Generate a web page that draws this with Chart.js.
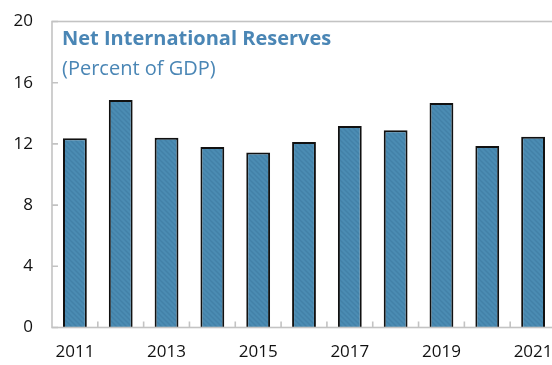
<!DOCTYPE html>
<html>
<head>
<meta charset="utf-8">
<script src="https://cdn.jsdelivr.net/npm/chart.js@4"></script>
<style>
  html, body { margin: 0; padding: 0; background: #fff; overflow: hidden; }
  #wrap { position: relative; width: 552px; height: 365px; overflow: hidden; }
  #reserves-chart { position: absolute; left: 0; top: 0; }
</style>
</head>
<body>
<div id="wrap"><canvas id="reserves-chart" width="560" height="365"></canvas></div>
<script>
// Net international reserves, percent of GDP
const years = ['2011', '2012', '2013', '2014', '2015', '2016', '2017', '2018', '2019', '2020', '2021'];
const reserves = [12.37, 14.87, 12.4, 11.8, 11.43, 12.12, 13.17, 12.9, 14.67, 11.86, 12.47];
const yTicks = [0, 4, 8, 12, 16, 20];

const axisGrey = '#c3c3c3';
const titleBlue = '#4a86b5';

// hatched fill for the bars
function makeHatch() {
  const s = 5;
  const c = document.createElement('canvas');
  c.width = s;
  c.height = s;
  const g = c.getContext('2d');
  g.fillStyle = '#4b8cb3';
  g.fillRect(0, 0, s, s);
  g.strokeStyle = '#4381a8';
  g.lineWidth = 1.3;
  g.beginPath();
  g.moveTo(-1, -1); g.lineTo(s + 1, s + 1);
  g.moveTo(-1, s - 1); g.lineTo(1, s + 1);
  g.moveTo(s - 1, -1); g.lineTo(s + 1, 1);
  g.stroke();
  return g.createPattern(c, 'repeat');
}

// frame, inside ticks and the title text
const decorations = {
  id: 'decorations',
  afterDatasetsDraw(chart) {
    const ctx = chart.ctx;
    const area = chart.chartArea;
    const x = chart.scales.x;
    const y = chart.scales.y;
    ctx.save();
    ctx.strokeStyle = axisGrey;
    ctx.lineWidth = 1.6;
    ctx.strokeRect(area.left, area.top, area.right - area.left, area.bottom - area.top);

    ctx.beginPath();
    yTicks.forEach(v => {
      const py = y.getPixelForValue(v);
      ctx.moveTo(area.left, py);
      ctx.lineTo(area.left + 6, py);
    });
    for (let i = 1; i < years.length; i++) {
      const px = (x.getPixelForTick(i - 1) + x.getPixelForTick(i)) / 2;
      ctx.moveTo(px, area.bottom);
      ctx.lineTo(px, area.bottom - 6);
    }
    ctx.stroke();

    ctx.fillStyle = titleBlue;
    ctx.textBaseline = 'alphabetic';
    ctx.textAlign = 'left';
    ctx.font = 'bold 20px "Open Sans"';
    ctx.fillText('Net International Reserves', area.left + 10, area.top + 23.5);
    ctx.font = '20px "Open Sans"';
    ctx.fillText('(Percent of GDP)', area.left + 10, area.top + 53);
    ctx.restore();
  }
};

const ctx = document.getElementById('reserves-chart').getContext('2d');
const chart = new Chart(ctx, {
  type: 'bar',
  data: {
    labels: years,
    datasets: [{
      data: reserves,
      backgroundColor: makeHatch(),
      borderColor: '#111',
      borderWidth: 2,
      barPercentage: 0.52,
      categoryPercentage: 1
    }]
  },
  options: {
    responsive: false,
    animation: false,
    layout: { autoPadding: false, padding: { top: 21.5, right: 4, left: 0, bottom: 0 } },
    plugins: {
      legend: { display: false },
      tooltip: { enabled: false }
    },
    scales: {
      x: {
        offset: true,
        grid: { display: false, drawTicks: false },
        border: { display: false },
        ticks: {
          padding: 14,
          maxRotation: 0,
          autoSkip: false,
          color: '#111',
          font: { family: 'Open Sans', size: 17 },
          callback: (v, i) => (i % 2 === 0 ? years[i] : '')
        },
        afterFit: s => {
          s.height = 37.5;
          s.paddingLeft = 0;
          s.paddingRight = 0;
        }
      },
      y: {
        min: 0,
        max: 20,
        afterBuildTicks: s => { s.ticks = yTicks.map(v => ({ value: v })); },
        grid: { display: false, drawTicks: false },
        border: { display: false },
        ticks: {
          padding: 19,
          color: '#111',
          font: { family: 'Open Sans', size: 17 }
        },
        afterFit: s => {
          s.width = 52;
          s.paddingTop = 0;
          s.paddingBottom = 0;
        }
      }
    }
  },
  plugins: [decorations]
});
</script>
</body>
</html>
